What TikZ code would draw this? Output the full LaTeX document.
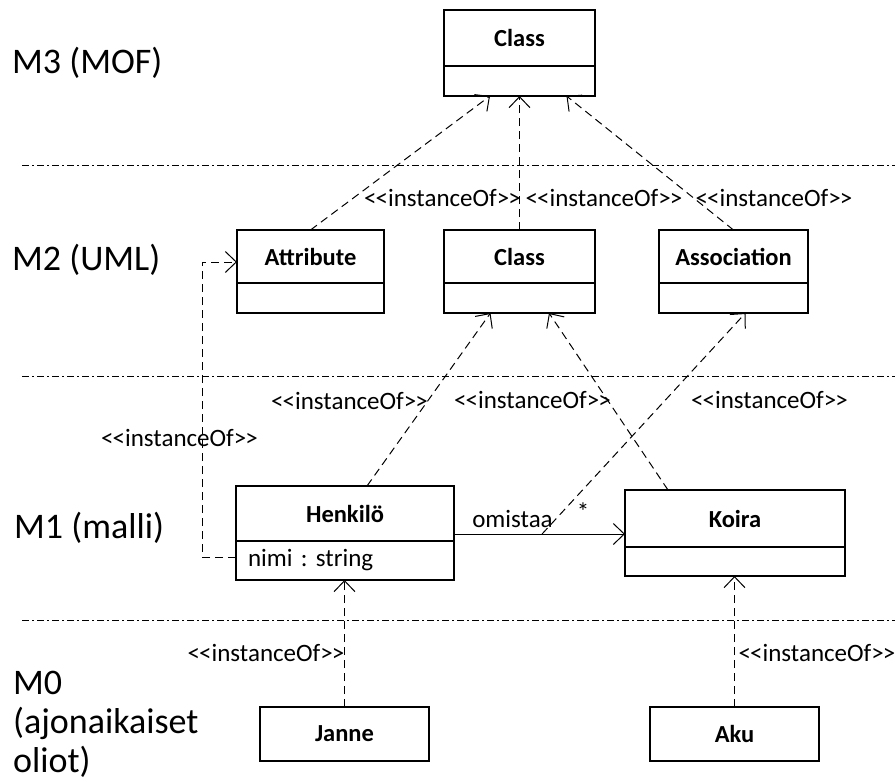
\documentclass[tikz,border=0pt]{standalone}
\usepackage{fontspec}
\setmainfont{Carlito}
\usetikzlibrary{arrows.meta,positioning,calc}
\newcommand{\io}{<\kern-1pt<instanceOf>\kern-1pt>}
\frenchspacing

\begin{document}
\begin{tikzpicture}[x=1pt,y=-1pt,>={Straight Barb[length=11pt,width=21pt]},every node/.style={font=\fontsize{25}{29}\selectfont}]
\tikzstyle{cls}=[draw,line width=2.2pt,inner sep=0pt,outer sep=0pt,font=\fontsize{24.5}{28}\selectfont\bfseries]
\tikzstyle{cmp}=[draw,line width=2.2pt,inner sep=0pt,outer sep=0pt]
\tikzstyle{dep}=[->,line width=1pt,dash pattern=on 8pt off 5pt]
\tikzstyle{lvl}=[line width=1pt,dash pattern=on 7pt off 3pt on 2pt off 3pt]
\tikzstyle{lyr}=[font=\fontsize{36}{39}\selectfont,inner sep=0pt,align=left]
\useasboundingbox (0,0) rectangle (895,782);
% levels
\draw[lvl] (22,165) -- (895,165);
\draw[lvl] (22,376) -- (895,376);
\draw[lvl] (22,620) -- (895,620);
\node[lyr,anchor=base west] (m3) at (12,73) {M3 (MOF)};
\node[lyr,anchor=base west] (m2) at (12,270) {M2 (UML)};
\node[lyr,anchor=base west] (m1) at (14,538) {M1 (malli)};
\node[lyr,anchor=north west] (m0) at (13,671) {M0\\(ajonaikaiset\\oliot)};
% M3
\node[cls,minimum width=151pt,minimum height=56pt] (mof) at (519.5,38) {Class};
\node[cmp,minimum width=151pt,minimum height=30pt,below=0pt of mof] (mofb) {};
% M2
\node[cls,minimum width=147pt,minimum height=53pt] (attr) at (310.5,256.5) {Attribute};
\node[cmp,minimum width=147pt,minimum height=30pt,below=0pt of attr] (attrb) {};
\node[cls,minimum width=151pt,minimum height=53pt] (uml) at (519.5,256.5) {Class};
\node[cmp,minimum width=151pt,minimum height=30pt,below=0pt of uml] (umlb) {};
\node[cls,minimum width=149pt,minimum height=53pt] (asc) at (733.5,256.5) {Association};
\node[cmp,minimum width=149pt,minimum height=30pt,below=0pt of asc] (ascb) {};
% M1
\node[cls,minimum width=218pt,minimum height=55pt] (henk) at (345,513.5) {Henkilö};
\node[cmp,minimum height=39pt,inner xsep=12pt,text width=194pt,align=left,below=0pt of henk] (henkb) {nimi : string};
\node[cls,minimum width=220pt,minimum height=57pt] (koira) at (735,518.5) {Koira};
\node[cmp,minimum width=220pt,minimum height=29pt,below=0pt of koira] (koirab) {};
% M0
\node[cls,minimum width=169pt,minimum height=54pt] (janne) at (344.5,734) {Janne};
\node[cls,minimum width=169pt,minimum height=54pt] (aku) at (734.5,734) {Aku};
% instanceOf
\draw[dep] (attr.north) -- ($(mofb.south)+(-29.5,0)$);
\draw[dep] (uml.north) -- (mofb.south);
\draw[dep] (asc.north) -- ($(mofb.south)+(47,0)$);
\draw[dep] ($(henk.north)+(22,0)$) -- ($(umlb.south)+(-29,0)$);
\draw[dep] ($(koira.north)+(-67,0)$) -- ($(umlb.south)+(29.5,0)$);
\coordinate (oa) at ([yshift=-20.5pt]henk.east);
\draw[->,line width=1pt] (oa) -- coordinate[pos=.515] (own) (oa -| koira.west);
\draw[dep] (own) -- ($(ascb.south)+(12,0)$);
\draw[dep] ([yshift=3.5pt]henkb.west) -- ++(-34,0) |- ([yshift=-5.5pt]attr.west);
\draw[dep] (janne.north) -- (janne.north |- henkb.south);
\draw[dep] (aku.north) -- (aku.north |- koirab.south);
% labels
\node (i1) at (442.5,198) {\io};
\node (i2) at (604,198) {\io};
\node (i3) at (774,198) {\io};
\node (i4) at (349.5,401) {\io};
\node (i5) at (532.5,400) {\io};
\node (i6) at (769.5,400) {\io};
\node (i7) at (179.5,438) {\io};
\node (i8) at (266,653) {\io};
\node (i9) at (817,653) {\io};
\node (own1) at (512.5,519) {omistaa};
\node (own2) at (583,512) {*};
\end{tikzpicture}
\end{document}
